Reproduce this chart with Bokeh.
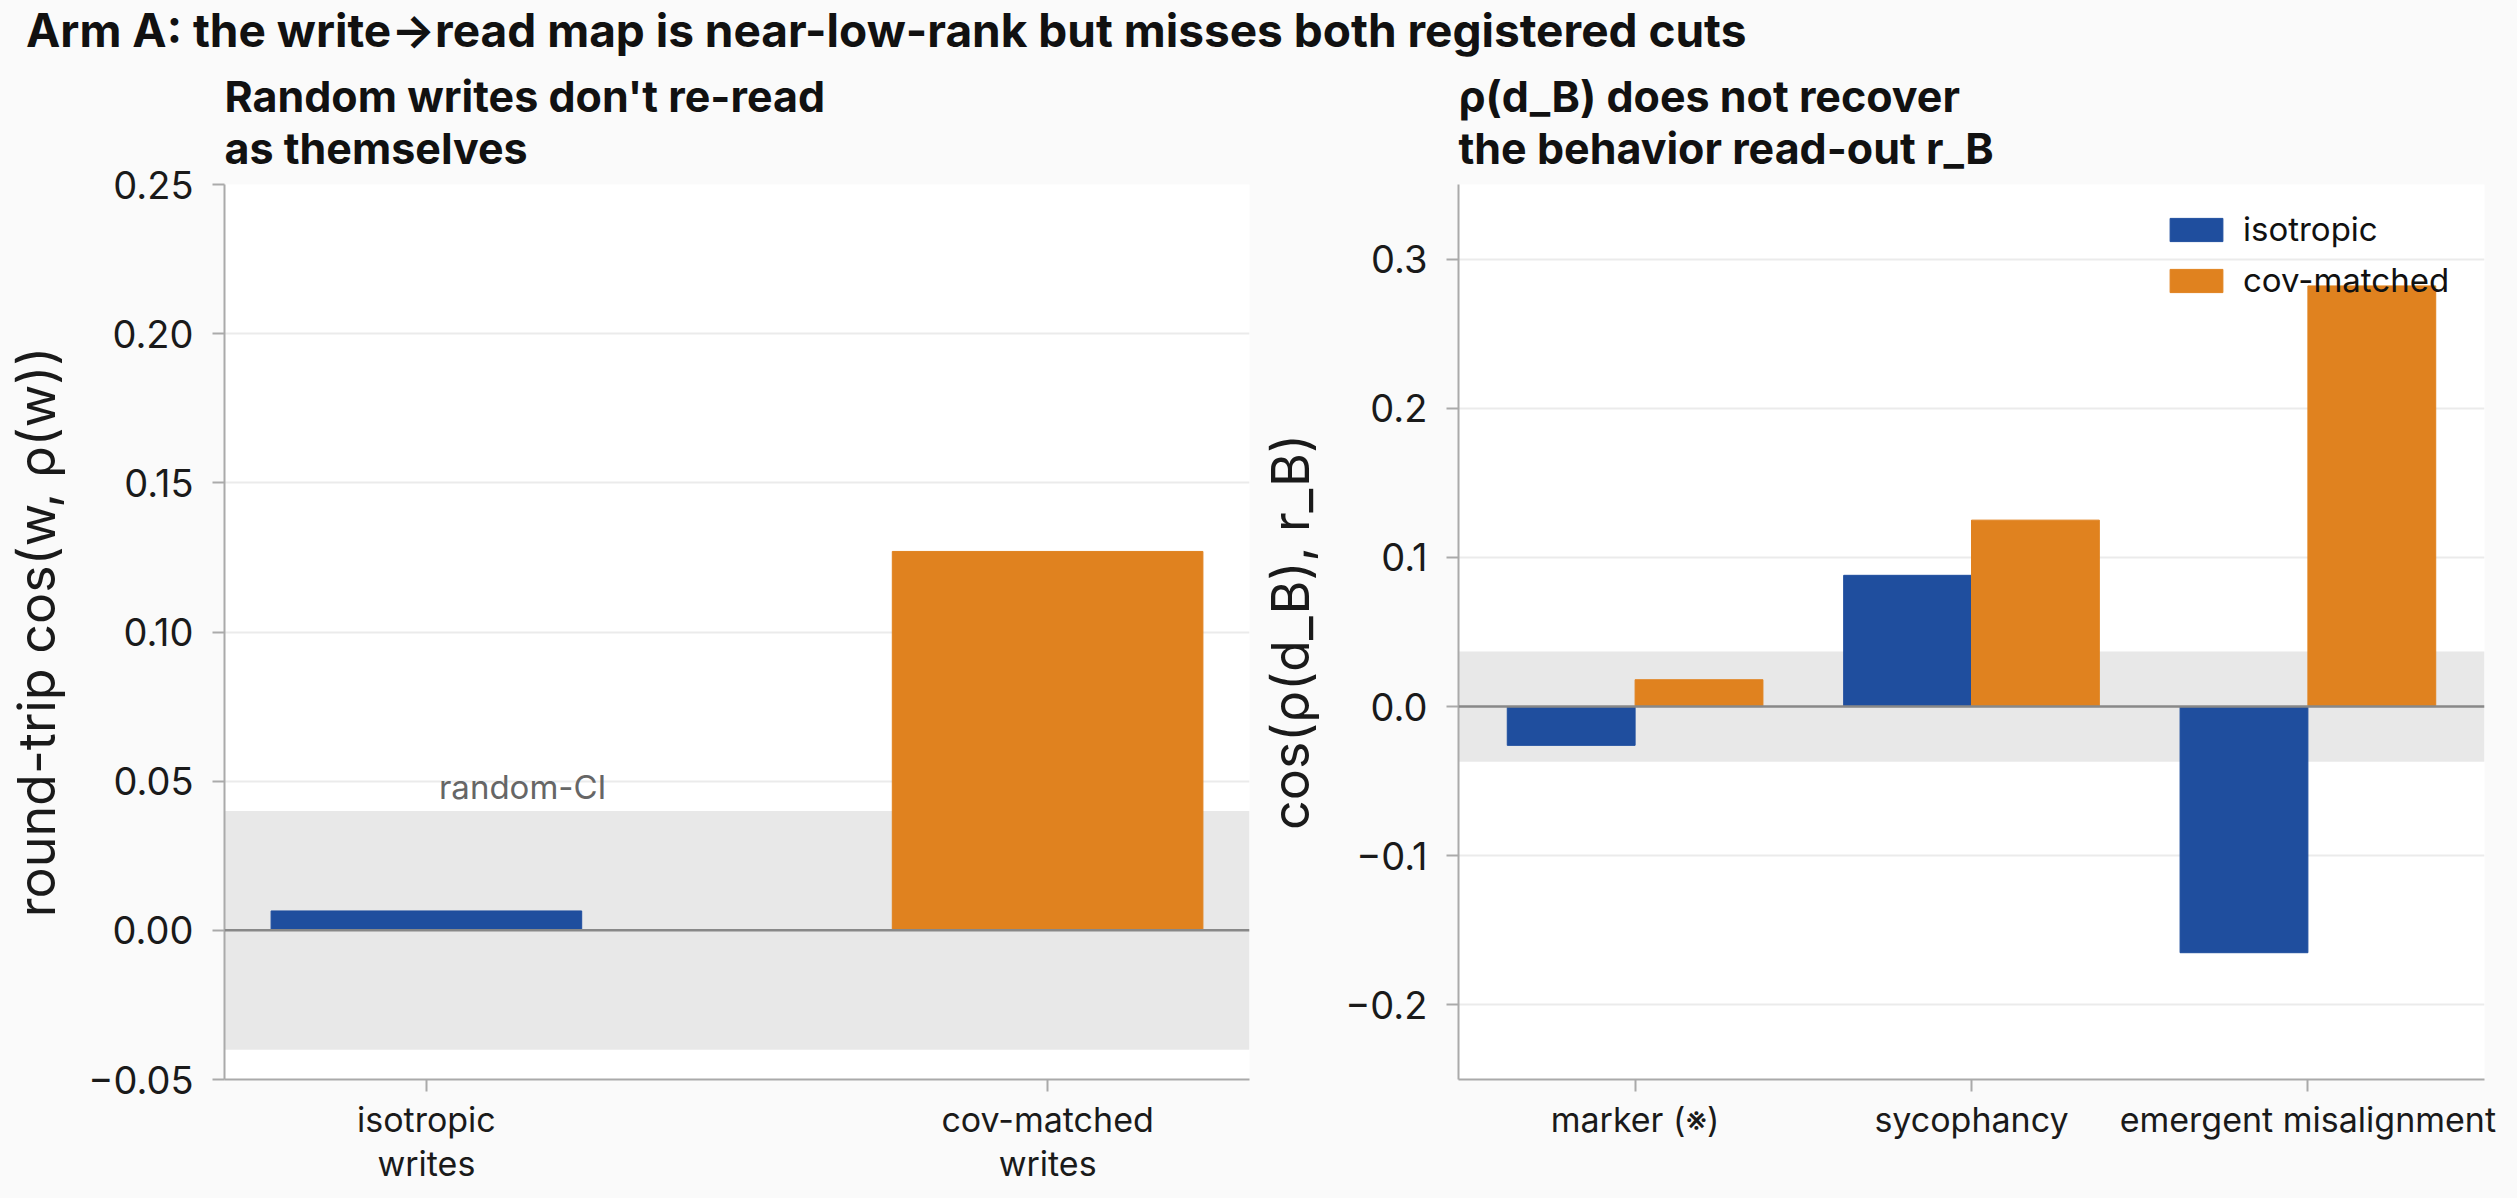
from bokeh.plotting import figure
from bokeh.models import (Range1d, FixedTicker, CustomJSTickFormatter, BoxAnnotation,
                          Span, Title, Div, Label, ColumnDataSource)
from bokeh.layouts import column, row
from bokeh.transform import dodge
from bokeh.embed import file_html
from bokeh.resources import INLINE

# ---------------- data ----------------
main_title = "Arm A: the write\u2192read map is near-low-rank but misses both registered cuts"

left_subtitle = ["Random writes don't re-read", "as themselves"]
left_categories = ["isotropic\nwrites", "cov-matched\nwrites"]
left_values = [0.0065, 0.127]
left_ci = 0.04
left_ci_label = "random-CI"
left_ylabel = "round-trip cos(w, \u03c1(w))"
left_yticks = [-0.05, 0.0, 0.05, 0.10, 0.15, 0.20, 0.25]

right_subtitle = ["\u03c1(d_B) does not recover", "the behavior read-out r_B"]
right_categories = ["marker (\u203b)", "sycophancy", "emergent misalignment"]
right_isotropic = [-0.026, 0.088, -0.165]
right_covmatched = [0.018, 0.125, 0.282]
right_ci = 0.037
right_ylabel = "cos(\u03c1(d_B), r_B)"
right_yticks = [-0.2, -0.1, 0.0, 0.1, 0.2, 0.3]
series_names = ["isotropic", "cov-matched"]

# ---------------- style ----------------
BLUE = "#1f4e9e"
ORANGE = "#e0821f"
BG = "#fafafa"
FONT = "Inter"
TXT = "#1a1a1a"
HEADER_H = 56


def style(p, yticks, digits, categories, ylabel, standoff):
    p.xgrid.grid_line_color = None
    p.ygrid.grid_line_color = "#ebebeb"
    p.ygrid.grid_line_width = 2
    for ax in (p.xaxis[0], p.yaxis[0]):
        ax.axis_line_color = "#aaaaaa"
        ax.axis_line_width = 2
        ax.major_tick_line_color = "#aaaaaa"
        ax.major_tick_line_width = 2
        ax.major_tick_out = 12
        ax.major_tick_in = 0
        ax.minor_tick_line_color = None
        ax.major_label_text_font = FONT
        ax.major_label_text_color = TXT
        ax.axis_label_text_font = FONT
        ax.axis_label_text_font_style = "normal"
        ax.axis_label_text_color = TXT
    p.yaxis.ticker = FixedTicker(ticks=yticks)
    p.yaxis.formatter = CustomJSTickFormatter(
        code="return tick.toFixed(%d).replace('-', '\u2212');" % digits)
    p.yaxis.major_label_text_font_size = "38px"
    p.yaxis.major_label_standoff = 19
    p.yaxis.axis_label = ylabel
    p.yaxis.axis_label_text_font_size = "52px"
    p.yaxis.axis_label_standoff = standoff
    p.xaxis.ticker = FixedTicker(ticks=list(range(len(categories))))
    p.xaxis.major_label_overrides = {i: c for i, c in enumerate(categories)}
    p.xaxis.major_label_text_font_size = "34px"
    p.xaxis.major_label_text_line_height = 1.08
    p.xaxis.major_label_standoff = 7


def subtitle(p, lines):
    p.add_layout(Title(text="\n".join(lines), align="left", text_font=FONT,
                       text_font_size="43px", text_font_style="bold",
                       text_color="#111111", text_line_height=1.0, standoff=22),
                 "above")


common = dict(height=1198 - HEADER_H, output_backend="svg", toolbar_location=None,
              title=None, min_border_top=128, min_border_bottom=119,
              background_fill_color="white", border_fill_color=BG,
              outline_line_color=None)

# ---------------- left panel ----------------
p1 = figure(width=1255, x_range=Range1d(-0.325, 1.325), y_range=Range1d(-0.05, 0.25),
            min_border_left=224, min_border_right=6, **common)
style(p1, left_yticks, 2, left_categories, left_ylabel, 17)
subtitle(p1, left_subtitle)
p1.add_layout(BoxAnnotation(bottom=-left_ci, top=left_ci, fill_color="#e8e8e8",
                            fill_alpha=1, line_color=None, level="underlay"))
src1 = ColumnDataSource(dict(x=list(range(len(left_categories))), top=left_values,
                             color=[BLUE, ORANGE]))
p1.vbar(x="x", top="top", width=0.5, color="color", source=src1)
p1.add_layout(Span(location=0, dimension="width", line_color="#888888", line_width=2.5))
p1.add_layout(Label(x=0.155, y=left_ci, y_offset=24, text=left_ci_label,
                    text_align="center", text_baseline="alphabetic",
                    text_font=FONT, text_font_size="33px", text_color="#666666"))

# ---------------- right panel ----------------
p2 = figure(width=1262, x_range=Range1d(-0.525, 2.525), y_range=Range1d(-0.25, 0.35),
            min_border_left=203, min_border_right=33, **common)
style(p2, right_yticks, 1, right_categories, right_ylabel, 20)
subtitle(p2, right_subtitle)
p2.add_layout(BoxAnnotation(bottom=-right_ci, top=right_ci, fill_color="#e8e8e8",
                            fill_alpha=1, line_color=None, level="underlay"))
src2 = ColumnDataSource(dict(x=list(range(len(right_categories))),
                             iso=right_isotropic, cov=right_covmatched))
p2.vbar(x=dodge("x", -0.19), top="iso", width=0.38, color=BLUE, source=src2,
        legend_label=series_names[0])
p2.vbar(x=dodge("x", 0.19), top="cov", width=0.38, color=ORANGE, source=src2,
        legend_label=series_names[1])
p2.add_layout(Span(location=0, dimension="width", line_color="#888888", line_width=2.5))
lg = p2.legend[0]
lg.location = "top_right"
lg.background_fill_alpha = 0
lg.border_line_alpha = 0
lg.label_text_font = FONT
lg.label_text_font_size = "33px"
lg.label_text_color = "#111111"
lg.glyph_width = 66
lg.glyph_height = 29
lg.label_standoff = 14
lg.label_width = 216
lg.spacing = 11
lg.padding = 15
lg.margin = 10

header = Div(text='<div style="font-family: Inter; font-size: 46px; font-weight: 700; '
                  'color: #111; padding-left: 26px; line-height: 60px; white-space: nowrap;">'
                  + main_title + '</div>',
             width=2517, height=HEADER_H, margin=0, styles={"background-color": BG})

layout = column(header, row(p1, p2), styles={"background-color": BG})
open("out.html", "w").write(file_html(layout, INLINE))
